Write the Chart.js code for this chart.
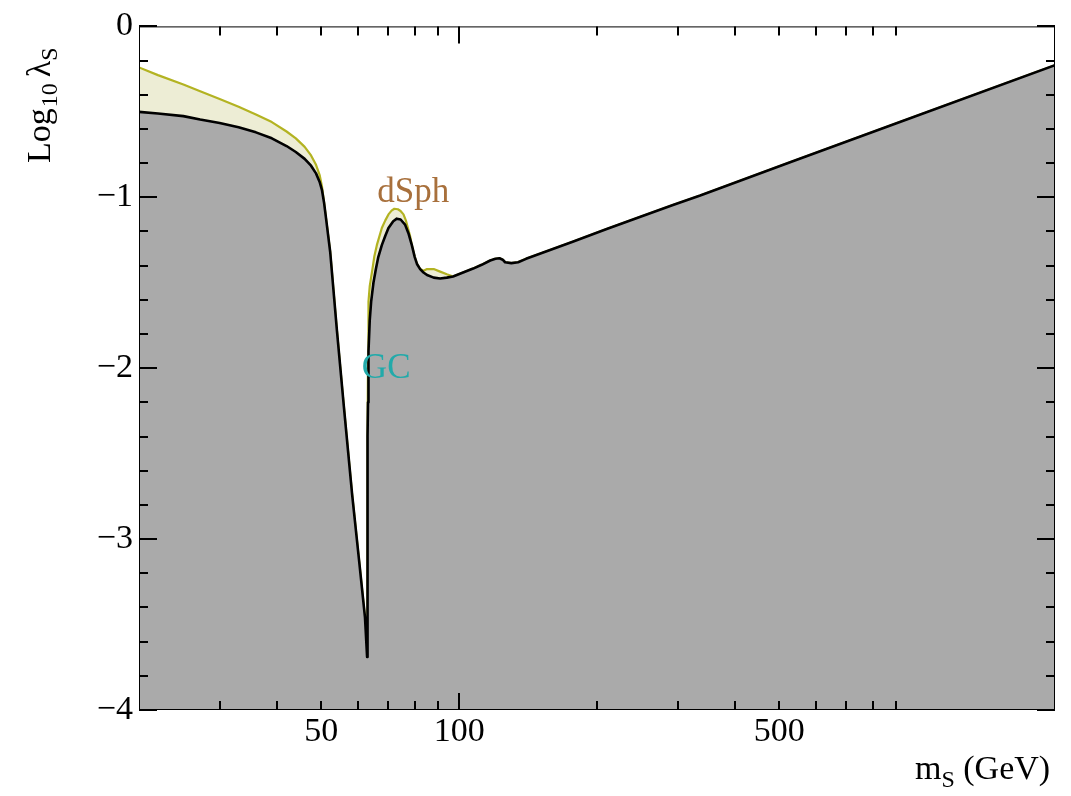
<!DOCTYPE html>
<html><head><meta charset="utf-8">
<script src="https://cdn.jsdelivr.net/npm/chart.js@4.4.1/dist/chart.umd.min.js"></script>
<style>html,body{margin:0;padding:0;background:#fff}#wrap{width:1071px;height:796px;position:relative}</style>
</head><body><div id="wrap"><canvas id="c" width="1071" height="796"></canvas></div>
<script>
// ---- data (m_S in GeV, Log10 lambda_S) ----
const massBlack = [20,22,25,27.2,30,33,36,39,42,44,46,47.5,48.7,49.6,50.2,50.7,51.2,52.3,54.1,56,58.4,60.5,62.3,62.96,
  63.05,63.15,63.25,63.4,63.8,64.25,65.0,65.8,66.6,67.8,69,70.1,71.8,73.1,74.5,76.2,77.5,78.84,80,80.9,82.2,83.6,85.1,88,90.9,94,97,
  102,107.3,112,116.9,120,122.5,124.5,126,130,134.5,140,150,177,210,248,293,336,528,874,2000];
const logLambdaBlack = [-0.50,-0.51,-0.525,-0.545,-0.565,-0.59,-0.62,-0.655,-0.70,-0.735,-0.775,-0.815,-0.86,-0.91,-0.96,-1.03,-1.12,-1.32,-1.78,-2.22,-2.74,-3.13,-3.46,-3.69,
  -3.0,-2.4,-2.2,-1.90,-1.72,-1.61,-1.50,-1.42,-1.35,-1.28,-1.225,-1.18,-1.14,-1.125,-1.13,-1.16,-1.21,-1.28,-1.35,-1.39,-1.42,-1.44,-1.455,-1.47,-1.475,-1.47,-1.463,
  -1.44,-1.417,-1.395,-1.37,-1.36,-1.357,-1.365,-1.38,-1.385,-1.38,-1.36,-1.33,-1.26,-1.186,-1.115,-1.045,-0.99,-0.795,-0.58,-0.227];

const massDsph = [20,22,25,27.2,30,33,36,39,42,44,46,47.5,48.7,49.6,50.2,50.7,51.2,52.3,54.1,56,58.4,60.5,62.3,62.96,
  63.05,63.15,63.25,63.4,63.8,64.67,65.3,66.12,67.8,69,70.1,71.2,72.2,73.5,74.5,75.6,76.5,77.3,78.2,78.84,80,80.9,82.2,83.6,85.1,88,90.9,94,97,
  102,107.3,112,116.9,120,122.5,124.5,126,130,134.5,140,150,177,210,248,293,336,528,874,2000];
const logLambdaDsph = [-0.24,-0.285,-0.34,-0.38,-0.425,-0.47,-0.515,-0.56,-0.615,-0.655,-0.705,-0.755,-0.81,-0.87,-0.94,-1.03,-1.12,-1.32,-1.78,-2.22,-2.74,-3.13,-3.46,-3.69,
  -3.0,-2.4,-1.94,-1.61,-1.52,-1.42,-1.345,-1.28,-1.18,-1.135,-1.10,-1.078,-1.067,-1.07,-1.08,-1.10,-1.135,-1.18,-1.23,-1.28,-1.35,-1.39,-1.42,-1.43,-1.42,-1.42,-1.435,-1.45,-1.463,
  -1.44,-1.417,-1.395,-1.37,-1.36,-1.357,-1.365,-1.38,-1.385,-1.38,-1.36,-1.33,-1.26,-1.186,-1.115,-1.045,-0.99,-0.795,-0.58,-0.227];

const xTickValues = [30,40,50,60,70,80,90,100,200,300,400,500,600,700,800,900];
const xLongTicks = [100];
const xLabelValues = [50,100,500];
const yTickValues = [0,-0.2,-0.4,-0.6,-0.8,-1,-1.2,-1.4,-1.6,-1.8,-2,-2.2,-2.4,-2.6,-2.8,-3,-3.2,-3.4,-3.6,-3.8,-4];

const FONT = "'Liberation Serif', 'Times New Roman', serif";
const isInt = v => Math.abs(v - Math.round(v)) < 1e-9;

const annotations = [
  {text: 'dSph', m: 79.4, v: -1.026, color: '#a8703c'},
  {text: 'GC',   m: 69.3, v: -2.058, color: '#22aaaa'}
];

const decor = {
  id: 'decor',
  afterDatasetsDraw(chart) {
    const {ctx, chartArea: a, scales: {x, y}} = chart;
    ctx.save();
    ctx.strokeStyle = '#000'; ctx.lineWidth = 1;
    ctx.strokeRect(a.left + 0.5, a.top + 0.5, a.right - a.left - 1, a.bottom - a.top - 1);
    ctx.lineWidth = 2;
    ctx.beginPath();
    xTickValues.forEach(v => {
      const px = Math.round(x.getPixelForValue(v));
      const len = xLongTicks.includes(v) ? 17 : 9;
      ctx.moveTo(px, a.bottom); ctx.lineTo(px, a.bottom - len);
      ctx.moveTo(px, a.top); ctx.lineTo(px, a.top + len);
    });
    yTickValues.forEach(v => {
      const py = Math.round(y.getPixelForValue(v));
      const len = isInt(v) ? 18 : 9;
      ctx.moveTo(a.left, py); ctx.lineTo(a.left + len, py);
      ctx.moveTo(a.right, py); ctx.lineTo(a.right - len, py);
    });
    ctx.stroke();
    ctx.font = '35px ' + FONT;
    ctx.textAlign = 'center'; ctx.textBaseline = 'alphabetic';
    annotations.forEach(t => {
      ctx.fillStyle = t.color;
      ctx.fillText(t.text, x.getPixelForValue(t.m), y.getPixelForValue(t.v));
    });
    ctx.restore();
  },
  afterDraw(chart) {
    const ctx = chart.ctx;
    ctx.save();
    ctx.fillStyle = '#000';
    ctx.textBaseline = 'alphabetic'; ctx.textAlign = 'left';
    ctx.translate(50, 163);
    ctx.rotate(-Math.PI / 2);
    let cx = 0;
    ctx.font = '34px ' + FONT; ctx.fillText('Log', cx, 0); cx += ctx.measureText('Log').width + 1;
    ctx.font = '24px ' + FONT; ctx.fillText('10', cx, 7); cx += ctx.measureText('10').width + 6;
    ctx.font = '34px ' + FONT; ctx.fillText('\u03bb', cx, 0); cx += ctx.measureText('\u03bb').width;
    ctx.font = '24px ' + FONT; ctx.fillText('S', cx, 7);
    ctx.setTransform(1, 0, 0, 1, 0, 0);
    let px = 915;
    ctx.font = '34px ' + FONT; ctx.fillText('m', px, 779); px += ctx.measureText('m').width;
    ctx.font = '24px ' + FONT; ctx.fillText('S', px, 787); px += ctx.measureText('S').width;
    ctx.font = '34px ' + FONT; ctx.fillText(' (GeV)', px, 779);
    ctx.restore();
  }
};

const toPts = (ms, vs) => ms.map((m, i) => ({x: m, y: vs[i]}));

new Chart(document.getElementById('c'), {
  type: 'line',
  data: {
    datasets: [
      {
        label: 'boundary',
        data: toPts(massBlack, logLambdaBlack),
        borderColor: '#000', borderWidth: 2.6, pointRadius: 0, tension: 0, borderJoinStyle: 'round',
        fill: 'start', backgroundColor: '#aaaaaa', order: 0
      },
      {
        label: 'dSph',
        data: toPts(massDsph, logLambdaDsph),
        borderColor: '#b3b322', borderWidth: 2.2, pointRadius: 0, tension: 0, borderJoinStyle: 'round',
        fill: {target: 0}, backgroundColor: '#ededd5', order: 1
      }
    ]
  },
  options: {
    responsive: false, animation: false, devicePixelRatio: 1,
    layout: {padding: {left: 0, top: 24, right: 16, bottom: 0}},
    plugins: {legend: {display: false}, tooltip: {enabled: false}},
    scales: {
      x: {
        type: 'logarithmic', min: 20, max: 2000,
        grid: {display: false, drawTicks: false}, border: {display: false},
        afterBuildTicks: s => { s.ticks = xTickValues.map(v => ({value: v})); },
        afterFit: s => { s.height = 86; },
        ticks: {
          autoSkip: false, maxRotation: 0, padding: 2, color: '#000',
          font: {family: FONT, size: 34},
          callback: v => xLabelValues.includes(v) ? String(v) : ''
        }
      },
      y: {
        type: 'linear', min: -4, max: 0,
        grid: {display: false, drawTicks: false}, border: {display: false},
        afterBuildTicks: s => { s.ticks = yTickValues.map(v => ({value: v})); },
        afterFit: s => { s.width = 139; },
        ticks: {
          autoSkip: false, padding: 6, color: '#000',
          font: {family: FONT, size: 34},
          callback: v => isInt(v) ? (Math.round(v) === 0 ? '0' : '\u2212' + Math.abs(Math.round(v))) : ''
        }
      }
    }
  },
  plugins: [decor]
});
</script></body></html>
